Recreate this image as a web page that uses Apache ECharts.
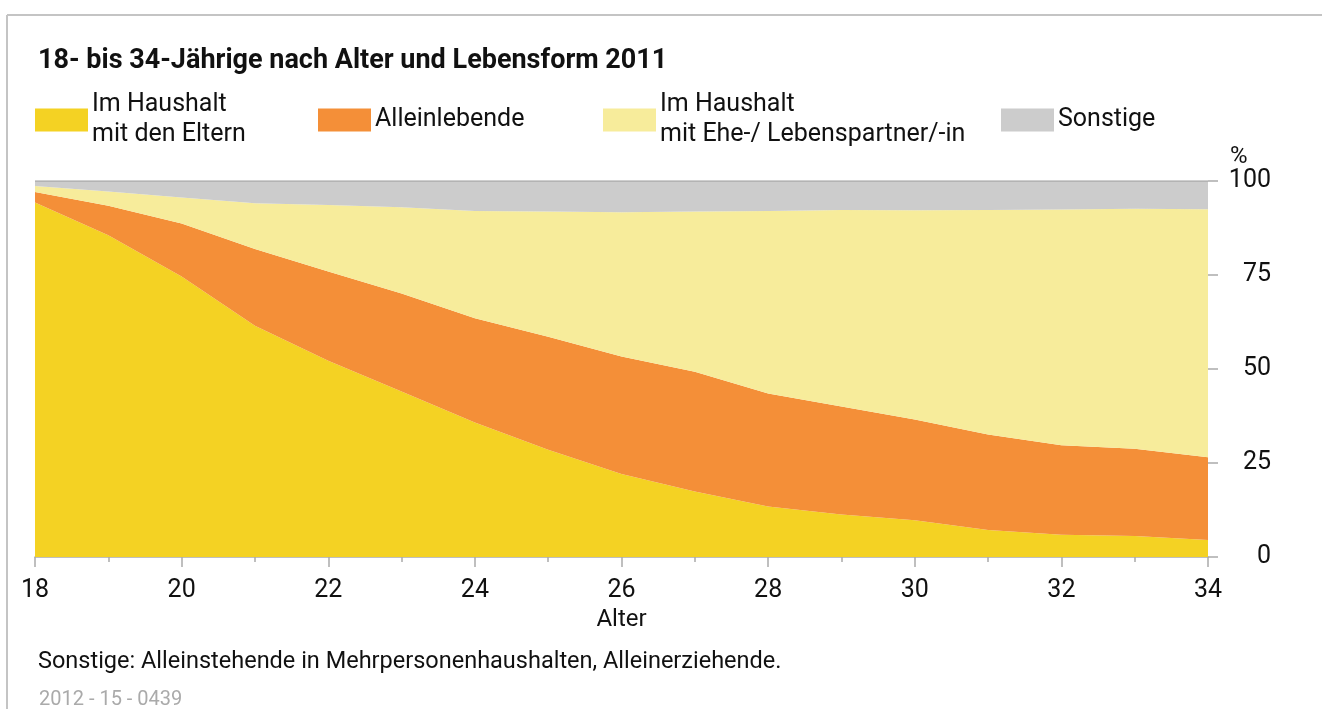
<!DOCTYPE html>
<html>
<head>
<meta charset="utf-8">
<script src="https://cdn.jsdelivr.net/npm/echarts@6/dist/echarts.min.js"></script>
<style>
  html, body { margin: 0; padding: 0; background: #fff; }
  #chart { width: 1322px; height: 709px; }
</style>
</head>
<body>
<div id="chart"></div>
<script>
const ages = ['18', '19', '20', '21', '22', '23', '24', '25', '26', '27', '28', '29', '30', '31', '32', '33', '34'];
// Anteile in %
const eltern = [94.3, 85.6, 74.6, 61.5, 52.2, 44.0, 35.8, 28.5, 22.1, 17.4, 13.4, 11.3, 9.8, 7.2, 5.9, 5.6, 4.5];
const alleinlebend = [2.8, 7.8, 14.1, 20.4, 23.7, 26.1, 27.7, 30.1, 31.2, 31.9, 30.1, 28.7, 26.8, 25.4, 23.8, 23.2, 22.0];
const partner = [1.6, 3.8, 6.9, 12.2, 17.7, 22.9, 28.5, 33.3, 38.4, 42.6, 48.5, 52.3, 55.6, 59.7, 62.7, 63.8, 66.0];
const sonstige = [1.3, 2.8, 4.4, 5.9, 6.4, 7.0, 8.0, 8.1, 8.3, 8.1, 8.0, 7.7, 7.8, 7.7, 7.6, 7.4, 7.5];

const names = ['Im Haushalt\nmit den Eltern', 'Alleinlebende', 'Im Haushalt\nmit Ehe-/ Lebenspartner/-in', 'Sonstige'];
const colors = ['#f4d223', '#f48f38', '#f7ec9b', '#cccccc'];
const values = [eltern, alleinlebend, partner, sonstige];

const font = 'Roboto';
const axisGray = '#aaaaaa';

function legendAt(name, left, top) {
  return {
    data: [name],
    left: left,
    top: top,
    padding: 0,
    icon: 'rect',
    itemWidth: 53,
    itemHeight: 23,
    itemGap: 4,
    selectedMode: false,
    textStyle: { fontFamily: font, fontSize: 25, lineHeight: 30, color: '#111', padding: [2, 0, 0, -1] }
  };
}

const chart = echarts.init(document.getElementById('chart'));
chart.setOption({
  animation: false,
  textStyle: { fontFamily: font },
  title: [
    { text: '18- bis 34-Jährige nach Alter und Lebensform 2011', left: 33, top: 43,
      textStyle: { fontFamily: font, fontSize: 27, fontWeight: 'bold', color: '#111' } },
    { text: 'Sonstige: Alleinstehende in Mehrpersonenhaushalten, Alleinerziehende.', left: 33, top: 645,
      textStyle: { fontFamily: font, fontSize: 23.5, fontWeight: 'normal', color: '#111' } },
    { text: '2012 - 15 - 0439', left: 34, top: 685,
      textStyle: { fontFamily: font, fontSize: 20, fontWeight: 'normal', color: '#aaaaaa' } }
  ],
  legend: [
    legendAt(names[0], 35, 89),
    legendAt(names[1], 318, 104),
    legendAt(names[2], 603, 89),
    legendAt(names[3], 1001, 104)
  ],
  graphic: [
    { type: 'line', shape: { x1: 7, y1: 15, x2: 1322, y2: 15 }, style: { stroke: '#c4c4c4', lineWidth: 2 } },
    { type: 'line', shape: { x1: 7, y1: 15, x2: 7, y2: 709 }, style: { stroke: '#c4c4c4', lineWidth: 2 } }
  ],
  grid: { left: 35, right: 114, top: 181, bottom: 152 },
  xAxis: [
    {
      type: 'category',
      data: ages,
      boundaryGap: false,
      name: 'Alter',
      nameLocation: 'middle',
      nameGap: 48,
      nameTextStyle: { fontFamily: font, fontSize: 24, color: '#111' },
      axisLine: { show: true, lineStyle: { color: axisGray, width: 1.5 } },
      axisTick: { show: true, interval: 0, length: 5, lineStyle: { color: axisGray, width: 1.5 } },
      axisLabel: { fontFamily: font, fontSize: 25, color: '#111', margin: 21, interval: 1 },
      splitLine: { show: false }
    },
    {
      // längere Striche an den geraden Altern
      type: 'category',
      data: ages,
      boundaryGap: false,
      position: 'bottom',
      axisLine: { show: false },
      axisTick: { show: true, interval: 1, length: 10, lineStyle: { color: axisGray, width: 1.5 } },
      axisLabel: { show: false },
      splitLine: { show: false }
    }
  ],
  yAxis: {
    type: 'value',
    position: 'right',
    min: 0,
    max: 100,
    interval: 25,
    name: '%',
    nameLocation: 'end',
    nameGap: 12,
    nameTextStyle: { fontFamily: font, fontSize: 24, color: '#111', align: 'left', padding: [0, 0, 0, 22] },
    axisLine: { show: false },
    axisTick: { show: true, length: 10, lineStyle: { color: axisGray, width: 1.5 } },
    axisLabel: { fontFamily: font, fontSize: 25, color: '#111', align: 'right', margin: 63 },
    splitLine: { show: false }
  },
  series: values.map((vals, i) => ({
    name: names[i],
    type: 'line',
    stack: 'total',
    data: vals,
    showSymbol: false,
    symbol: 'none',
    color: colors[i],
    itemStyle: { color: colors[i] },
    lineStyle: i === 3 ? { width: 1.5, color: axisGray } : { width: 0, color: colors[i] },
    areaStyle: { color: colors[i], opacity: 1 },
    emphasis: { disabled: true }
  }))
});
</script>
</body>
</html>
